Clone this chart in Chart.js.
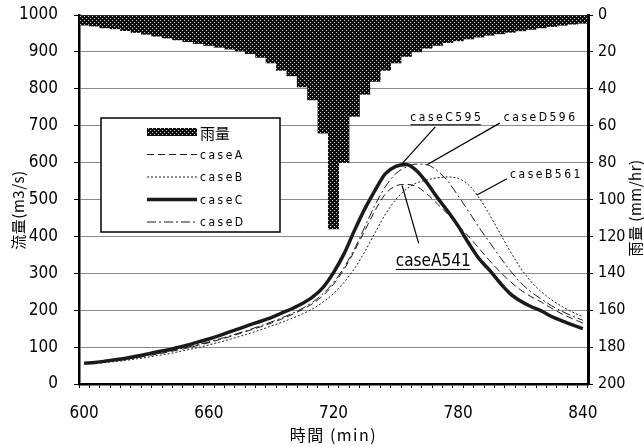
<!DOCTYPE html>
<html>
<head>
<meta charset="utf-8">
<script src="https://cdn.jsdelivr.net/npm/chart.js@4.4.0/dist/chart.umd.min.js"></script>
<style>
html, body { margin: 0; padding: 0; background: #fff; }
#wrap { width: 644px; height: 447px; }
</style>
</head>
<body>
<div id="wrap"><canvas id="chart"></canvas></div>
<script>
// time axis (min), one category every 5 min
const times = [600, 605, 610, 615, 620, 625, 630, 635, 640, 645, 650, 655, 660, 665, 670, 675, 680,
    685, 690, 695, 700, 705, 710, 715, 720, 725, 730, 735, 740, 745, 750, 755, 760, 765, 770,
    775, 780, 785, 790, 795, 800, 805, 810, 815, 820, 825, 830, 835, 840];
const xTickLabels = [600, 660, 720, 780, 840];

// rainfall (mm/hr), hangs from the top on the right axis
const rain = [5.5, 6, 7, 7.5, 8.5, 9.5, 10.5, 11.5, 12.5, 13.5, 14.5, 15.5, 16.5, 17.5, 18.5, 19.5, 21,
    23, 26, 30, 33, 39, 46, 64, 116, 80, 55, 43, 36, 30, 26, 22.5, 20, 18, 16.5,
    15, 14, 13, 12, 11, 10.2, 9.4, 8.6, 7.8, 7, 6.3, 5.6, 5, 4.5];

// discharge (m3/s)
const caseA = [56, 57, 60, 63, 67, 71, 76, 81, 86, 92, 98, 105, 112, 120, 128, 137, 146,
    155, 165, 176, 188, 202, 218, 240, 270, 310, 360, 415, 470, 515, 537, 541, 535, 515, 488,
    460, 430, 400, 368, 335, 305, 278, 255, 237, 222, 205, 190, 177, 165];
const caseB = [56, 56, 58, 61, 64, 68, 72, 77, 81, 87, 93, 99, 106, 113, 121, 129, 138,
    147, 157, 167, 178, 190, 204, 222, 245, 275, 312, 358, 410, 460, 500, 528, 545, 553, 559,
    561, 557, 540, 505, 460, 410, 360, 315, 278, 250, 228, 210, 195, 182];
const caseC = [56, 58, 62, 66, 70, 75, 81, 87, 92, 99, 106, 114, 122, 131, 141, 151, 161,
    170, 180, 192, 204, 218, 236, 262, 302, 352, 415, 474, 525, 570, 590, 595, 578, 545, 505,
    468, 428, 382, 340, 309, 275, 245, 225, 210, 198, 183, 171, 160, 150];
const caseD = [56, 57, 60, 64, 68, 72, 77, 82, 88, 94, 100, 107, 114, 122, 130, 139, 148,
    158, 168, 179, 191, 205, 222, 245, 275, 315, 365, 425, 485, 535, 570, 588, 596, 594, 578,
    550, 510, 468, 425, 385, 345, 308, 275, 250, 230, 212, 197, 184, 173];

// peak labels: [text, label time, label Q, line start time, line start Q, tip time, tip Q]
const peakNotes = [
    ['caseC595', 757, 712, 769, 697, 753, 597],
    ['caseD596', 802, 712, 800, 707, 765, 594],
    ['caseB561', 805, 557, 803.5, 556, 789, 512],
    ['caseA541', 750, 320, 761, 381, 753, 538]
];

// dotted halftone pattern for the rain bars
function makePattern() {
    const c = document.createElement('canvas');
    c.width = 4; c.height = 4;
    const g = c.getContext('2d');
    g.fillStyle = '#101010';
    g.fillRect(0, 0, 4, 4);
    g.fillStyle = '#d0d0d0';
    g.fillRect(0, 0, 1, 1);
    g.fillRect(2, 2, 1, 1);
    return g.createPattern(c, 'repeat');
}
const rainFill = makePattern();

const FONT = "'DejaVu Sans', 'Noto Sans', sans-serif";
const JFONT = "'Noto Sans CJK JP', 'DejaVu Sans', sans-serif";

// legend, peak notes and axis titles
const extras = {
    id: 'extras',
    afterDraw(chart) {
        const ctx = chart.ctx;
        const xs = chart.scales.x, ys = chart.scales.y;
        const step = xs.width / times.length;
        const xp = t => xs.left + (t - 600) / 5 * step + step / 2;
        ctx.save();

        // peak notes
        ctx.strokeStyle = '#000';
        ctx.fillStyle = '#000';
        ctx.lineWidth = 1.2;
        peakNotes.forEach(n => {
            ctx.beginPath();
            ctx.moveTo(xp(n[3]), ys.getPixelForValue(n[4]));
            ctx.lineTo(xp(n[5]), ys.getPixelForValue(n[6]));
            ctx.stroke();
            const big = n[0] === 'caseA541';
            ctx.font = big ? 'condensed 17px ' + FONT : 'condensed 12px ' + FONT;
            ctx.letterSpacing = big ? '0px' : '2.5px';
            ctx.textBaseline = 'alphabetic';
            ctx.textAlign = 'left';
            const x = xp(n[1]), y = ys.getPixelForValue(n[2]);
            ctx.fillText(n[0], x, y);
            if (n[0] !== 'caseD596' && n[0] !== 'caseB561') {
                const w = ctx.measureText(n[0]).width;
                ctx.fillRect(x, y + 3, w - (big ? 0 : 2.5), 1);
            }
        });
        ctx.letterSpacing = '0px';

        // legend box
        const lx = 101, ly = 118, lw = 179, lh = 114;
        ctx.fillStyle = '#fff';
        ctx.fillRect(lx, ly, lw, lh);
        ctx.strokeStyle = '#000';
        ctx.lineWidth = 1.5;
        ctx.strokeRect(lx, ly, lw, lh);
        const rows = chart.data.datasets;
        const order = [4, 0, 1, 2, 3];
        order.forEach((di, k) => {
            const ds = rows[di];
            const y = ly + 14 + k * 22.5;
            if (ds.type === 'bar') {
                ctx.fillStyle = rainFill;
                ctx.fillRect(147, y - 4, 50, 8);
            } else {
                ctx.strokeStyle = ds.borderColor;
                ctx.lineWidth = ds.borderWidth;
                ctx.setLineDash(ds.borderDash || []);
                ctx.beginPath();
                ctx.moveTo(147, y);
                ctx.lineTo(197, y);
                ctx.stroke();
                ctx.setLineDash([]);
            }
            ctx.fillStyle = '#000';
            ctx.textBaseline = 'middle';
            ctx.textAlign = 'left';
            ctx.font = ds.type === 'bar' ? '15px ' + JFONT : 'condensed 12px ' + FONT;
            ctx.letterSpacing = ds.type === 'bar' ? '0px' : '2.5px';
            ctx.fillText(ds.label, 200, y + 1);
        });

        // axis titles
        ctx.fillStyle = '#000';
        ctx.textAlign = 'center';
        ctx.textBaseline = 'middle';
        ctx.font = '16px ' + JFONT;
        ctx.letterSpacing = '1.5px';
        ctx.fillText('時間 (min)', (xs.left + xs.right) / 2, 435);
        ctx.letterSpacing = '0.5px';
        ctx.font = '15px ' + JFONT;
        ctx.save();
        ctx.translate(18, 210);
        ctx.rotate(-Math.PI / 2);
        ctx.fillText('流量(m3/s)', 0, 0);
        ctx.restore();
        ctx.save();
        ctx.translate(635, 208);
        ctx.rotate(-Math.PI / 2);
        ctx.fillText('雨量 (mm/hr)', 0, 0);
        ctx.restore();
        ctx.letterSpacing = '0px';

        ctx.restore();
    }
};

const lineStyle = (label, data, width, dash) => ({
    type: 'line',
    label: label,
    data: data,
    yAxisID: 'y',
    borderColor: '#1a1a1a',
    borderWidth: width,
    borderDash: dash,
    pointRadius: 0,
    fill: false,
    cubicInterpolationMode: 'monotone',
    order: 1
});

const tickFont = { family: FONT, size: 17, weight: 'condensed' };

const chart = new Chart(document.getElementById('chart'), {
    data: {
        labels: times,
        datasets: [
            lineStyle('caseA', caseA, 1, [7, 4]),
            lineStyle('caseB', caseB, 1, [2, 2]),
            lineStyle('caseC', caseC, 3.5, []),
            lineStyle('caseD', caseD, 1, [9, 3, 2, 3]),
            {
                type: 'bar',
                label: '雨量',
                data: rain,
                yAxisID: 'y2',
                backgroundColor: rainFill,
                borderWidth: 0,
                categoryPercentage: 1,
                barPercentage: 1,
                order: 2
            }
        ]
    },
    options: {
        responsive: true,
        maintainAspectRatio: false,
        animation: false,
        layout: { padding: { top: 15 } },
        plugins: {
            legend: { display: false },
            tooltip: { enabled: false }
        },
        scales: {
            x: {
                type: 'category',
                offset: true,
                afterFit: s => { s.height = 63; s.paddingLeft = 0; s.paddingRight = 0; },
                grid: {
                    offset: true,
                    drawOnChartArea: false,
                    drawTicks: true,
                    tickLength: 4,
                    color: '#000'
                },
                border: { display: true, color: '#000', width: 2.5 },
                ticks: {
                    autoSkip: false,
                    maxRotation: 0,
                    padding: 15,
                    color: '#000',
                    font: tickFont,
                    callback: function (v, i) {
                        const t = times[i];
                        return xTickLabels.includes(t) ? String(t) : '';
                    }
                }
            },
            y: {
                position: 'left',
                min: 0,
                max: 1000,
                afterFit: s => { s.width = 79; s.paddingTop = 0; s.paddingBottom = 0; },
                ticks: {
                    stepSize: 100,
                    padding: 16,
                    color: '#000',
                    font: tickFont,
                    callback: v => String(v)
                },
                grid: { color: '#8a8a8a', lineWidth: 1, tickLength: 5, tickColor: '#000' },
                border: { display: true, color: '#000', width: 2.5 }
            },
            y2: {
                position: 'right',
                reverse: true,
                min: 0,
                max: 200,
                afterFit: s => { s.width = 56; s.paddingTop = 0; s.paddingBottom = 0; },
                ticks: {
                    stepSize: 20,
                    padding: 5,
                    color: '#000',
                    font: { family: FONT, size: 16, weight: 'condensed' },
                    callback: v => String(v)
                },
                grid: { drawOnChartArea: false, tickLength: 5, color: '#000' },
                border: { display: true, color: '#000', width: 3 }
            }
        }
    },
    plugins: [extras]
});
</script>
</body>
</html>
